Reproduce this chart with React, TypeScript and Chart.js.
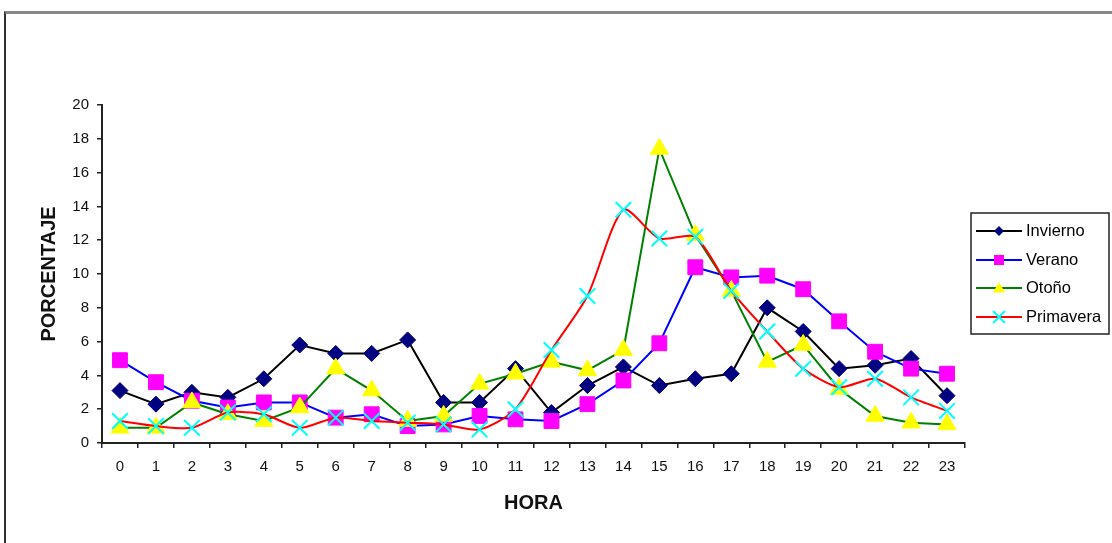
import React, { useEffect, useRef } from "react";
import { Chart, registerables } from "chart.js";

Chart.register(...registerables);

const horas: string[] = ["0","1","2","3","4","5","6","7","8","9","10","11","12","13","14","15","16","17","18","19","20","21","22","23"];
const invierno: number[] = [3.1,2.3,3.0,2.7,3.8,5.8,5.3,5.3,6.1,2.4,2.4,4.4,1.8,3.4,4.5,3.4,3.8,4.1,8.0,6.6,4.4,4.6,5.0,2.8];
const verano: number[] = [4.9,3.6,2.5,2.1,2.4,2.4,1.5,1.7,1.0,1.1,1.6,1.4,1.3,2.3,3.7,5.9,10.4,9.8,9.9,9.1,7.2,5.4,4.4,4.1];
const otono: number[] = [0.9,0.9,2.4,1.7,1.3,2.1,4.4,3.1,1.3,1.6,3.5,4.1,4.8,4.3,5.5,17.4,12.3,9.0,4.8,5.8,3.2,1.6,1.2,1.1];
const primavera: number[] = [1.3,1.0,0.9,1.8,1.7,0.9,1.5,1.3,1.2,1.1,0.8,2.0,5.5,8.7,13.8,12.1,12.2,9.0,6.6,4.4,3.3,3.8,2.7,1.9];
const seriesNames: string[] = ["Invierno", "Verano", "Otoño", "Primavera"];
const yTicks: number[] = [0, 2, 4, 6, 8, 10, 12, 14, 16, 18, 20];

const FONT = "'Liberation Sans', Arial, sans-serif";

type Sym = { shape: string; fill: string; line: string };
const symbols: Sym[] = [
  { shape: "diamond", fill: "#000080", line: "#000000" },
  { shape: "square", fill: "#FF00FF", line: "#0000FF" },
  { shape: "triangle", fill: "#FFFF00", line: "#008000" },
  { shape: "cross", fill: "#00FFFF", line: "#FF0000" },
];

function drawMarker(ctx: CanvasRenderingContext2D, shape: string, color: string, x: number, y: number, s: number) {
  ctx.save();
  ctx.fillStyle = color;
  ctx.strokeStyle = color;
  ctx.beginPath();
  if (shape === "diamond") {
    ctx.moveTo(x, y - s);
    ctx.lineTo(x + s, y);
    ctx.lineTo(x, y + s);
    ctx.lineTo(x - s, y);
    ctx.closePath();
    ctx.fill();
  } else if (shape === "square") {
    ctx.rect(x - s, y - s, 2 * s, 2 * s);
    ctx.fill();
  } else if (shape === "triangle") {
    ctx.moveTo(x, y - s);
    ctx.lineTo(x + s, y + s * 0.75);
    ctx.lineTo(x - s, y + s * 0.75);
    ctx.closePath();
    ctx.fill();
  } else {
    ctx.lineWidth = 2;
    ctx.moveTo(x - s, y - s);
    ctx.lineTo(x + s, y + s);
    ctx.moveTo(x + s, y - s);
    ctx.lineTo(x - s, y + s);
    ctx.stroke();
  }
  ctx.restore();
}

const legendPlugin = {
  id: "boxLegend",
  afterDraw(chart: any) {
    const ctx: CanvasRenderingContext2D = chart.ctx;
    const bx = 971, by = 213, bw = 138, bh = 121;
    ctx.save();
    ctx.fillStyle = "#ffffff";
    ctx.fillRect(bx, by, bw, bh);
    ctx.strokeStyle = "#222222";
    ctx.lineWidth = 1.5;
    ctx.strokeRect(bx, by, bw, bh);
    const rows = [231, 260, 288, 317];
    const sizes = [5, 5, 6, 6];
    seriesNames.forEach((name, i) => {
      const y = rows[i];
      const sym = symbols[i];
      ctx.strokeStyle = sym.line;
      ctx.lineWidth = 2;
      ctx.beginPath();
      ctx.moveTo(976, y);
      ctx.lineTo(1022, y);
      ctx.stroke();
      drawMarker(ctx, sym.shape, sym.fill, 999, y, sizes[i]);
      ctx.fillStyle = "#000000";
      ctx.font = "16.5px " + FONT;
      ctx.textBaseline = "middle";
      ctx.textAlign = "left";
      ctx.fillText(name, 1026, y);
    });
    ctx.restore();
  },
};

export default function App() {
  const ref = useRef<HTMLCanvasElement | null>(null);

  useEffect(() => {
    if (!ref.current) return;
    const chart = new Chart(ref.current, {
      type: "line",
      data: {
        labels: horas,
        datasets: [
          {
            label: seriesNames[0],
            data: invierno,
            borderColor: "#000000",
            borderWidth: 2,
            pointStyle: "rectRot",
            pointRadius: 8,
            pointBackgroundColor: "#000080",
            pointBorderColor: "#000080",
            pointBorderWidth: 1,
            tension: 0,
            order: 4,
          },
          {
            label: seriesNames[1],
            data: verano,
            borderColor: "#0000FF",
            borderWidth: 2,
            pointStyle: "rect",
            pointRadius: 10.5,
            pointBackgroundColor: "#FF00FF",
            pointBorderColor: "#FF00FF",
            pointBorderWidth: 1,
            tension: 0,
            order: 3,
          },
          {
            label: seriesNames[2],
            data: otono,
            borderColor: "#008000",
            borderWidth: 2,
            pointStyle: "triangle",
            pointRadius: 10.5,
            pointBackgroundColor: "#FFFF00",
            pointBorderColor: "#FFFF00",
            pointBorderWidth: 1,
            tension: 0,
            order: 2,
          },
          {
            label: seriesNames[3],
            data: primavera,
            borderColor: "#FF0000",
            borderWidth: 2,
            pointStyle: "crossRot",
            pointRadius: 11,
            pointBackgroundColor: "#00FFFF",
            pointBorderColor: "#00FFFF",
            pointBorderWidth: 2,
            tension: 0.25,
            order: 1,
          },
        ],
      },
      options: {
        responsive: false,
        animation: false,
        layout: { padding: { left: 30, right: 147, top: 105, bottom: 0 } },
        plugins: {
          legend: { display: false },
          tooltip: { enabled: false },
        },
        scales: {
          x: {
            type: "category",
            offset: true,
            grid: { display: true, drawOnChartArea: false, drawTicks: true, tickLength: 5, tickColor: "#222222", offset: true, lineWidth: 1.5 },
            border: { display: true, color: "#222222", width: 2 },
            ticks: { color: "#111111", font: { family: FONT, size: 15 }, padding: 10, maxRotation: 0, autoSkip: false },
            title: { display: true, text: "HORA", color: "#111111", font: { family: FONT, size: 20, weight: "bold" }, padding: { top: 4, bottom: 28 } },
            afterFit: (scale: any) => { scale.height = 100; },
          },
          y: {
            min: 0,
            max: 20,
            afterBuildTicks: (scale: any) => { scale.ticks = yTicks.map((v) => ({ value: v })); },
            grid: { display: true, drawOnChartArea: false, drawTicks: true, tickLength: 5, tickColor: "#222222", lineWidth: 1.5 },
            border: { display: true, color: "#222222", width: 2 },
            ticks: { color: "#111111", font: { family: FONT, size: 15 }, padding: 8 },
            title: { display: true, text: "PORCENTAJE", color: "#111111", font: { family: FONT, size: 20, weight: "bold" }, padding: { top: 7, bottom: 0 } },
            afterFit: (scale: any) => { scale.width = 72; },
          },
        },
      } as any,
      plugins: [legendPlugin],
    });
    return () => chart.destroy();
  }, []);

  return (
    <div style={{ position: "absolute", left: 0, top: 0, width: 1112, height: 543, background: "#ffffff", overflow: "hidden" }}>
      <div style={{ position: "absolute", left: 4, top: 11, width: 1200, height: 600, borderLeft: "2px solid #333333", borderTop: "3px solid #888888" }} />
      <canvas ref={ref} width={1112} height={543} style={{ position: "absolute", left: 0, top: 0 }} />
    </div>
  );
}
